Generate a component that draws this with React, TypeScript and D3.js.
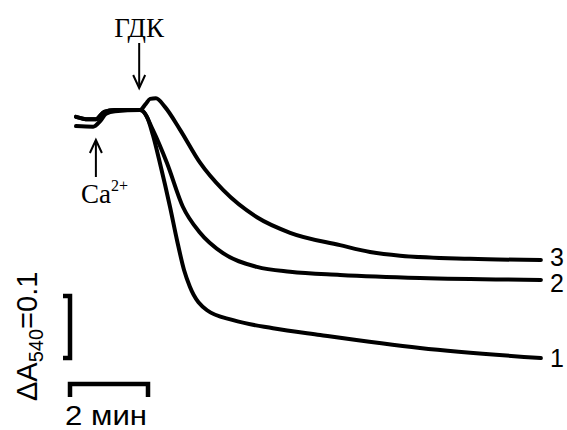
import React from 'react';
import * as d3 from 'd3';

// time in minutes, absorbance change relative to baseline
const time3 = [0, 0.31, 0.51, 0.72, 1.0, 1.64, 1.79, 1.9, 2.05, 2.28, 2.67, 3.18, 3.77, 4.64, 5.49, 6.77, 7.54, 8.31, 10.1, 11.92];
const curve3 = [-0.011, -0.015, -0.015, -0.003, 0, 0, 0.01, 0.018, 0.019, 0.005, -0.032, -0.085, -0.129, -0.173, -0.198, -0.218, -0.229, -0.235, -0.24, -0.242];

const time2 = [0, 0.31, 0.51, 0.72, 1.0, 1.64, 1.72, 1.97, 2.33, 2.74, 3.18, 3.77, 4.64, 5.49, 6.77, 8.82, 11.92];
const curve2 = [-0.011, -0.015, -0.015, -0.003, 0, 0, -0.002, -0.032, -0.085, -0.156, -0.198, -0.231, -0.253, -0.261, -0.266, -0.271, -0.274];

const time1 = [0, 0.44, 0.62, 0.77, 1.0, 1.64, 1.82, 1.97, 2.15, 2.41, 2.59, 2.77, 2.92, 3.36, 4.03, 5.05, 6.26, 8.82, 11.92];
const curve1 = [-0.026, -0.027, -0.018, -0.006, -0.002, 0, -0.011, -0.04, -0.085, -0.156, -0.21, -0.258, -0.285, -0.323, -0.339, -0.352, -0.363, -0.384, -0.4];

const curveLabels = ['1', '2', '3'];
const caTime = 0.51;
const gdkTime = 1.62;
const scaleMinutes = 2;
const scaleAbs = 0.1;

const width = 567;
const height = 430;

export default function App() {
  const x = d3.scaleLinear().domain([0, 12]).range([76, 544]);
  const y = d3.scaleLinear().domain([0, -0.4]).range([110, 358]);

  const series = [
    { t: time1, v: curve1, shift: 0 },
    { t: time2, v: curve2, shift: 3 },
    { t: time3, v: curve3, shift: -3 },
  ];

  const line = d3
    .line<[number, number]>()
    .x(d => x(d[0]))
    .y(d => y(d[1]))
    .curve(d3.curveMonotoneX);

  const serif = '"Liberation Serif", "Times New Roman", serif';
  const sans = '"Liberation Sans", Arial, sans-serif';

  const gx = x(gdkTime);
  const cx = x(caTime);
  const barW = x(scaleMinutes) - x(0);
  const barH = y(-scaleAbs) - y(0);

  return (
    <svg width={width} height={height} style={{ position: 'absolute', left: 0, top: 0, background: '#fff' }}>
      {series.map((s, i) => {
        const pts = s.t.map((t, j) => [t, s.v[j]] as [number, number]);
        const last = pts[pts.length - 1];
        return (
          <g key={i}>
            <path d={line(pts) ?? ''} fill="none" stroke="#000" strokeWidth={4} strokeLinejoin="round" strokeLinecap="round" />
            <text x={x(last[0]) + 9} y={y(last[1]) + s.shift} dy="0.35em" fontFamily={sans} fontSize={25}>
              {curveLabels[i]}
            </text>
          </g>
        );
      })}

      {/* ГДК marker */}
      <text x={gx} y={37} textAnchor="middle" fontFamily={serif} fontSize={27}>ГДК</text>
      <line x1={gx} x2={gx} y1={43} y2={87} stroke="#000" strokeWidth={2} />
      <polyline points={`${gx - 6},${75} ${gx},${88} ${gx + 6},${75}`} fill="none" stroke="#000" strokeWidth={2} />

      {/* Ca2+ marker */}
      <line x1={cx} x2={cx} y1={141} y2={177} stroke="#000" strokeWidth={2} />
      <polyline points={`${cx - 6},${153} ${cx},${140} ${cx + 6},${153}`} fill="none" stroke="#000" strokeWidth={2} />
      <text x={81} y={203} fontFamily={serif} fontSize={27}>
        Ca<tspan fontSize={16} dy={-12}>2+</tspan>
      </text>

      {/* vertical scale bar */}
      <path
        d={`M63,296 H70 V${296 + barH} H63`}
        fill="none"
        stroke="#000"
        strokeWidth={4.5}
      />
      <text transform={`translate(37,401) rotate(-90)`} fontFamily={sans} fontSize={29}>
        ΔA<tspan fontSize={20} dy={6}>540</tspan>
        <tspan dy={-6}>=0.1</tspan>
      </text>

      {/* horizontal scale bar */}
      <path
        d={`M70,397 V384 H${70 + barW} V397`}
        fill="none"
        stroke="#000"
        strokeWidth={4.5}
      />
      <text x={65} y={425} fontFamily={sans} fontSize={28} textLength={82} lengthAdjust="spacingAndGlyphs">2 мин</text>
    </svg>
  );
}
